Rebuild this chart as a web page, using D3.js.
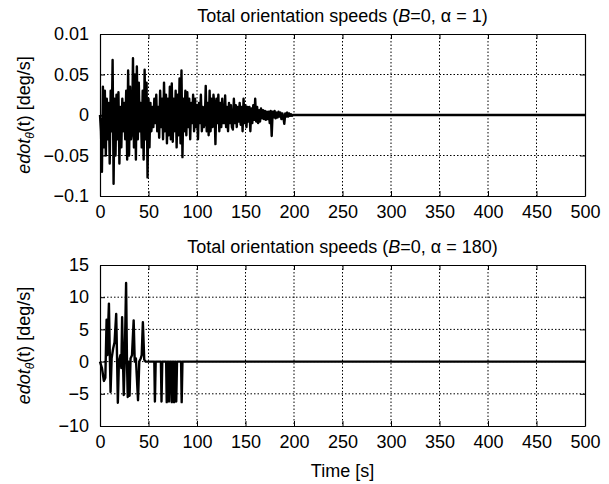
<!DOCTYPE html>
<html>
<head>
<meta charset="utf-8">
<script src="https://cdn.jsdelivr.net/npm/d3@7"></script>
<style>
  body { margin: 0; background: #fff; }
  svg { font-family: "Liberation Sans", Arial, Helvetica, sans-serif; }
  .grid line { stroke: #000; stroke-width: 1; stroke-dasharray: 1.5,2; }
</style>
</head>
<body>
<div id="chart"></div>
<script>
// top panel: speed sampled every second from t = 0 to 200 s, then flat to 500 s
const speedA = [
  0, -.02, -.07, .035, -.04, .03, -.05, .02, -.03, .015,
  -.06, .03, -.02, .068, -.085, .02, -.05, .025, -.03, .028,
  -.06, .01, -.04, .02, -.02, .015, -.03, .03, -.055, .055,
  -.05, .035, -.03, -.02, .07, -.04, .05, -.055, .06, -.03,
  .04, -.02, .015, -.04, .03, -.055, .056, -.03, .04, -.077,
  .02, -.04, .015, -.02, .01, -.015, .02, -.01, .025, -.02,
  .01, -.028, .03, -.015, .02, -.03, .04, -.02, .025, -.035,
  .02, -.025, .035, -.03, .039, -.033, .02, -.02, .03, -.04,
  .025, -.025, .045, -.035, .055, -.052, .02, -.02, .03, -.025,
  .028, -.015, .02, -.03, .015, -.01, .025, -.02, .02, -.015,
  .012, -.03, .015, -.01, .025, -.02, .01, -.015, -.01, .036,
  -.02, .015, -.025, .03, -.02, .02, -.015, .025, .01, -.036,
  .02, -.01, .025, -.02, .015, -.015, .02, -.01, -.01, .024,
  -.015, .01, -.02, .015, -.01, .012, -.015, -.018, .02, -.01,
  .012, -.015, .01, -.008, .015, -.012, .01, -.02, .02, -.01,
  .012, -.015, .01, -.008, .01, -.02, .008, -.01, .012, -.006,
  .02, -.008, .01, -.01, .006, -.008, .008, -.004, .006, -.005,
  .005, -.006, .004, -.005, .004, -.01, .005, -.026, .004, -.003,
  .005, -.004, .003, -.003, .004, -.002, .003, -.005, .002, -.003,
  -.011, .002, -.002, .003, -.002, .002, -.001, .001, -.001, 0,
  0
];
const endA = [500, 0];

// bottom panel: [time s, speed deg/s]
const speedB = [
  [0, 0], [2, -1], [4, -3], [5.5, -2.5], [6.8, 6.5], [7.6, 1], [8.3, 5], [9.2, 9],
  [10, 2], [10.9, -4.7], [12, 0.5], [13.5, 2], [15, 3], [16.7, 7.4], [17.6, 0.5],
  [18.4, -6.4], [19.5, 0], [21, 1], [22, -1], [22.8, 6.9], [23.7, 0], [24.5, -5.2],
  [25.5, 0.5], [26.9, 12.2], [27.8, 0], [28.6, -5.5], [29.5, 0], [30.5, -5.3],
  [31.5, 0.5], [33, 1], [34.7, 6.4], [35.8, 0], [37, 0.5], [39.2, -6], [40.5, 0],
  [42, 0.5], [43, 1], [44.2, 6.1], [45.6, 0.3], [47, 0],
  [56, 0], [56.6, -6.2], [57.4, 0], [62.8, 0], [63.4, -6.2], [64.2, 0],
  [68.2, 0], [68.8, -6.3], [69.6, 0], [70.6, 0], [71.2, -6.2], [72, 0],
  [73.4, 0], [74, -6.3], [74.8, 0], [75.8, 0], [76.4, -6.3], [77.2, 0],
  [78, 0], [78.6, -6.2], [79.4, 0], [83.6, 0], [84.2, -6.3], [85, 0],
  [500, 0]
];

const xTicks = [0, 50, 100, 150, 200, 250, 300, 350, 400, 450, 500];
const yTicksA = [-0.1, -0.05, 0, 0.05, 0.1];
const yLabelsA = ["\u22120.1", "\u22120.05", "0", "0.05", "0.01"];
const yTicksB = [-10, -5, 0, 5, 10, 15];
const yLabelsB = ["\u221210", "\u22125", "0", "5", "10", "15"];

const width = 609, height = 484;
const left = 100, right = 585;
const fs = 18;

const svg = d3.select("#chart").append("svg")
  .attr("width", width).attr("height", height)
  .attr("viewBox", [0, 0, width, height]);

const x = d3.scaleLinear().domain([0, 500]).range([left, right]);

function panel(cfg) {
  const y = d3.scaleLinear().domain(cfg.domain).range([cfg.bottom, cfg.top]);
  const g = svg.append("g");

  // dotted grid
  const grid = g.append("g").attr("class", "grid");
  grid.selectAll(".gx").data(xTicks.slice(1, -1)).join("line")
    .attr("x1", d => x(d)).attr("x2", d => x(d))
    .attr("y1", cfg.top).attr("y2", cfg.bottom);
  grid.selectAll(".gy").data(cfg.ticks.slice(1, -1)).join("line")
    .attr("y1", d => y(d)).attr("y2", d => y(d))
    .attr("x1", left).attr("x2", right);

  // data
  g.append("path")
    .datum(cfg.data)
    .attr("fill", "none")
    .attr("stroke", "#000")
    .attr("stroke-width", 2.4)
    .attr("stroke-linejoin", "round")
    .attr("d", d3.line().x(d => x(d[0])).y(d => y(d[1])));

  // axes with inward ticks, matlab style
  g.append("g")
    .attr("transform", `translate(0,${cfg.bottom})`)
    .call(d3.axisBottom(x).tickValues(xTicks).tickSizeInner(-5).tickSizeOuter(0).tickPadding(9))
    .call(a => a.selectAll("text").attr("font-size", fs).attr("fill", "#000"));
  g.append("g")
    .attr("transform", `translate(0,${cfg.top})`)
    .call(d3.axisTop(x).tickValues(xTicks).tickSizeInner(-5).tickSizeOuter(0).tickFormat(""));
  g.append("g")
    .attr("transform", `translate(${left},0)`)
    .call(d3.axisLeft(y).tickValues(cfg.ticks).tickSizeInner(-5).tickSizeOuter(0).tickPadding(11)
      .tickFormat((d, i) => cfg.labels[i]))
    .call(a => a.selectAll("text").attr("font-size", fs).attr("fill", "#000"));
  g.append("g")
    .attr("transform", `translate(${right},0)`)
    .call(d3.axisRight(y).tickValues(cfg.ticks).tickSizeInner(-5).tickSizeOuter(0).tickFormat(""));
  g.selectAll(".domain").attr("stroke-width", 1.2);
  g.selectAll(".tick line").attr("stroke-width", 1);

  // title
  const t = g.append("text")
    .attr("x", (left + right) / 2).attr("y", cfg.top - 12)
    .attr("text-anchor", "middle").attr("font-size", fs);
  t.append("tspan").text("Total orientation speeds (");
  t.append("tspan").attr("font-style", "italic").text("B");
  t.append("tspan").text(`=0, \u03b1 = ${cfg.alpha})`);

  // y label
  const yl = g.append("text")
    .attr("transform", `translate(30,${(cfg.top + cfg.bottom) / 2}) rotate(-90)`)
    .attr("text-anchor", "middle").attr("font-size", 18);
  yl.append("tspan").attr("font-style", "italic").text("edot");
  yl.append("tspan").attr("font-style", "italic").attr("font-size", 12).attr("dy", 4).text("\u03b8");
  yl.append("tspan").attr("dy", -4).text("(t)  [deg/s]");
}

panel({
  data: speedA.map((v, i) => [i, v]).concat([endA]),
  domain: [-0.1, 0.1], ticks: yTicksA, labels: yLabelsA,
  top: 34, bottom: 196, alpha: 1
});

panel({
  data: speedB,
  domain: [-10, 15], ticks: yTicksB, labels: yLabelsB,
  top: 265, bottom: 426, alpha: 180
});

svg.append("text")
  .attr("x", (left + right) / 2).attr("y", 477)
  .attr("text-anchor", "middle").attr("font-size", fs)
  .text("Time [s]");
</script>
</body>
</html>
